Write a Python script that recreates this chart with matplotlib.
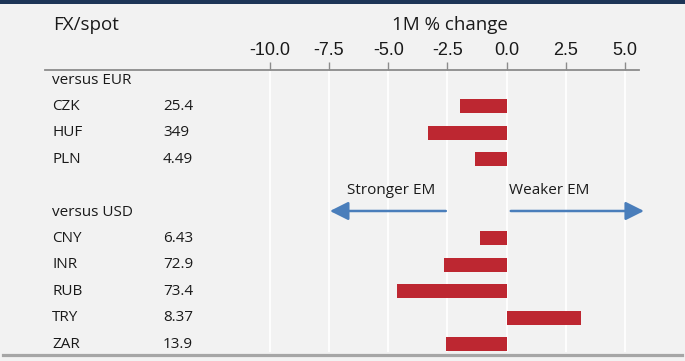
import matplotlib
matplotlib.use("Agg")
import matplotlib.pyplot as plt
from matplotlib.transforms import blended_transform_factory
from matplotlib.lines import Line2D
from matplotlib.patches import Rectangle

# ---- data ----
groups = ["versus EUR", "versus USD"]
eur_codes = ["CZK", "HUF", "PLN"]
eur_spot = ["25.4", "349", "4.49"]
eur_change = [-1.97, -3.33, -1.35]
usd_codes = ["CNY", "INR", "RUB", "TRY", "ZAR"]
usd_spot = ["6.43", "72.9", "73.4", "8.37", "13.9"]
usd_change = [-1.14, -2.65, -4.64, 3.12, -2.55]
x_ticks = [-10.0, -7.5, -5.0, -2.5, 0.0, 2.5, 5.0]
x_tick_labels = ["-10.0", "-7.5", "-5.0", "-2.5", "0.0", "2.5", "5.0"]

BG = "#f2f2f2"
BAR = "#bd2731"
ARROW = "#4a7ebb"
TXT = "#1a1a1a"
LAB_FONT = "Open Sans"

W, H = 685, 361
fig = plt.figure(figsize=(W / 100, H / 100), dpi=100, facecolor=BG)

# axes placement (pixels)
ax_l, ax_r, ax_t, ax_b = 45, 639, 70, 352
ax = fig.add_axes([ax_l / W, 1 - ax_b / H, (ax_r - ax_l) / W, (ax_b - ax_t) / H])
ax.set_facecolor(BG)

# rows layout
rows = []  # (kind, label, spot, value)
rows.append(("group", groups[0], None, None))
for c, s, v in zip(eur_codes, eur_spot, eur_change):
    rows.append(("item", c, s, v))
rows.append(("blank", None, None, None))
rows.append(("group", groups[1], None, None))
for c, s, v in zip(usd_codes, usd_spot, usd_change):
    rows.append(("item", c, s, v))

ax.set_xlim(-19.48, 5.58)
ax.set_ylim(10.30, -0.379)

# gridlines
for t in x_ticks:
    ax.axvline(t, color="white", lw=1.3, zorder=0)

# bars
ys = [i for i, r in enumerate(rows) if r[0] == "item"]
vals = [r[3] for r in rows if r[0] == "item"]
ax.barh(ys, vals, height=0.53, color=BAR, zorder=2)

# ticks on top
ax.xaxis.tick_top()
ax.set_xticks(x_ticks)
ax.set_xticklabels(x_tick_labels, fontsize=13, family="Liberation Sans", color=TXT)
ax.tick_params(axis="x", direction="out", length=5.5, width=1.0, color="#8c8c8c", pad=2.5)
ax.set_yticks([])
for s in ["left", "right", "bottom"]:
    ax.spines[s].set_visible(False)
ax.spines["top"].set_color("#8c8c8c")
ax.spines["top"].set_linewidth(1.3)

# row labels
tr = blended_transform_factory(fig.transFigure, ax.transData)
for i, (kind, lab, spot, val) in enumerate(rows):
    if kind in ("group", "item"):
        ax.text(52 / W, i, lab, transform=tr, ha="left", va="center",
                fontsize=11, family=LAB_FONT, color=TXT)
    if kind == "item":
        ax.text(163 / W, i, spot, transform=tr, ha="left", va="center",
                fontsize=11, family=LAB_FONT, color=TXT)

# direction arrows
arrow_row = 4.96
ax.annotate("", xy=(-7.46, arrow_row), xytext=(-2.57, arrow_row),
            arrowprops=dict(arrowstyle="-|>,head_length=0.8,head_width=0.4",
                            mutation_scale=14, color=ARROW, lw=1.8,
                            shrinkA=0, shrinkB=0))
ax.annotate("", xy=(5.79, arrow_row), xytext=(0.17, arrow_row),
            arrowprops=dict(arrowstyle="-|>,head_length=0.8,head_width=0.4",
                            mutation_scale=14, color=ARROW, lw=1.8,
                            shrinkA=0, shrinkB=0),
            annotation_clip=False)
ax.text(-4.89, 4.17, "Stronger EM", ha="center", va="center",
        fontsize=11, family=LAB_FONT, color=TXT)
ax.text(0.1, 4.17, "Weaker EM", ha="left", va="center",
        fontsize=11, family=LAB_FONT, color=TXT)

# headers
fig.text(53 / W, 1 - 25 / H, "FX/spot", ha="left", va="center",
         fontsize=13.5, family=LAB_FONT, color=TXT)
hdr_tr = blended_transform_factory(ax.transData, fig.transFigure)
ax.text(-2.4, 1 - 25 / H, "1M % change", transform=hdr_tr, ha="center", va="center",
        fontsize=13.5, family=LAB_FONT, color=TXT)

# decorative frame lines
fig.add_artist(Rectangle((0, 1 - 4 / H), 1, 4 / H, transform=fig.transFigure,
                         color="#1d3557", lw=0))
fig.add_artist(Line2D([3 / W, 682 / W], [1 - 355 / H, 1 - 355 / H],
                      transform=fig.transFigure, color="#a6a6a6", lw=2.3))

fig.savefig("out.png", dpi=100, facecolor=BG)
